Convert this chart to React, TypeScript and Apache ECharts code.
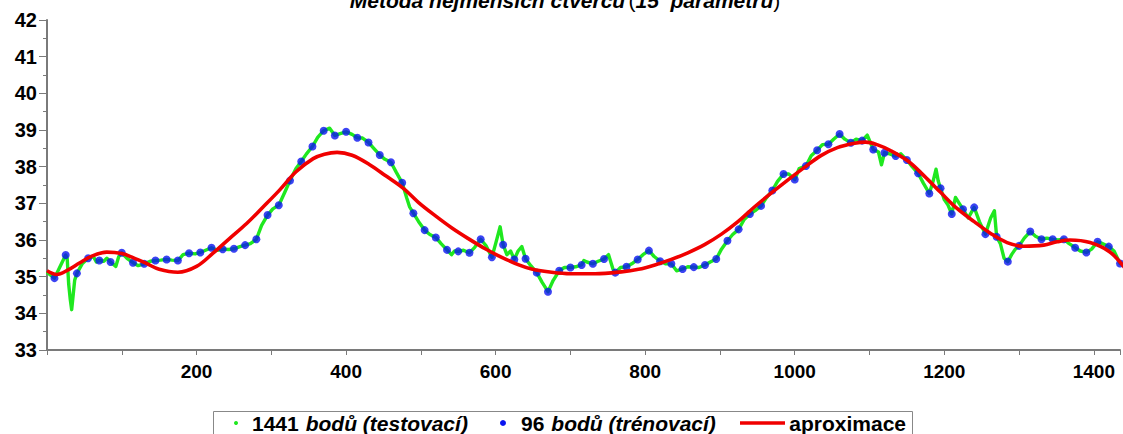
import React, { useEffect, useRef } from "react";
import * as echarts from "echarts";

const titleMain = "Metoda nejmenších čtverců";
const titleCount = "15  parametrů";
const yTicks = [33, 34, 35, 36, 37, 38, 39, 40, 41, 42];
const xLabelsShown = [200, 400, 600, 800, 1000, 1200, 1400];

// 96 training points (every 15th sample starting at 10)
const trainingStart = 10;
const trainingStep = 15;
const blueValues = [
  34.96, 35.59, 35.09, 35.5, 35.44, 35.4, 35.65, 35.38, 35.35, 35.44, 35.47, 35.44,
  35.64, 35.66, 35.79, 35.75, 35.76, 35.86, 36.02, 36.68, 36.95, 37.62, 38.14, 38.55,
  38.98, 38.85, 38.95, 38.79, 38.66, 38.32, 38.12, 37.56, 36.73, 36.27, 36.07, 35.73,
  35.69, 35.65, 36.02, 35.53, 35.87, 35.47, 35.49, 35.11, 34.59, 35.16, 35.25, 35.32,
  35.35, 35.48, 35.11, 35.27, 35.47, 35.71, 35.42, 35.35, 35.21, 35.26, 35.32, 35.48,
  35.98, 36.29, 36.71, 36.93, 37.35, 37.8, 37.65, 38.02, 38.45, 38.61, 38.89, 38.65,
  38.71, 38.47, 38.38, 38.29, 38.18, 37.82, 37.27, 37.41, 36.71, 36.84, 36.89, 36.16,
  36.09, 35.41, 35.84, 36.23, 36.02, 36.02, 36.02, 35.79, 35.66, 35.95, 35.82, 35.36,
];

// test data (1441 samples)
const greenPoints: [number, number][] = [
  [1, 35.1], [10, 34.96], [18, 35.3], [25, 35.59], [27, 35.5], [29, 34.8], [31, 34.4], [33, 34.1],
  [35, 34.5], [37, 34.9], [40, 35.09], [47, 35.35], [55, 35.5], [62, 35.55], [66, 35.4], [70, 35.44],
  [76, 35.42], [80, 35.5], [85, 35.4], [92, 35.28], [96, 35.55], [100, 35.65], [107, 35.5], [115, 35.38],
  [122, 35.3], [130, 35.35], [138, 35.42], [145, 35.44], [152, 35.45], [160, 35.47], [167, 35.45], [175, 35.44],
  [182, 35.6], [190, 35.64], [198, 35.62], [205, 35.66], [212, 35.72], [220, 35.79], [228, 35.72], [235, 35.75],
  [243, 35.74], [250, 35.76], [258, 35.82], [265, 35.86], [272, 35.9], [280, 36.02], [287, 36.4], [295, 36.68],
  [302, 36.85], [310, 36.95], [318, 37.3], [325, 37.62], [333, 37.95], [340, 38.14], [347, 38.35], [355, 38.55],
  [362, 38.8], [370, 38.98], [378, 39.05], [385, 38.85], [392, 38.9], [400, 38.95], [408, 38.88], [415, 38.79],
  [422, 38.78], [430, 38.66], [437, 38.5], [445, 38.32], [452, 38.2], [460, 38.12], [467, 37.85], [475, 37.56],
  [481, 37.15], [485, 36.9], [490, 36.73], [497, 36.5], [505, 36.27], [512, 36.15], [520, 36.07], [527, 35.9],
  [535, 35.73], [541, 35.6], [545, 35.7], [550, 35.69], [557, 35.72], [565, 35.65], [572, 35.8], [580, 36.02],
  [587, 35.85], [595, 35.53], [600, 35.9], [606, 36.36], [610, 35.87], [615, 35.6], [620, 35.7], [625, 35.47],
  [630, 35.7], [635, 35.82], [640, 35.49], [647, 35.3], [655, 35.11], [662, 34.85], [670, 34.59], [677, 34.9],
  [685, 35.16], [692, 35.25], [700, 35.25], [707, 35.27], [715, 35.32], [718, 35.44], [722, 35.4], [730, 35.35],
  [737, 35.42], [745, 35.48], [751, 35.6], [757, 35.2], [760, 35.11], [767, 35.25], [775, 35.27], [782, 35.35],
  [790, 35.47], [797, 35.6], [805, 35.71], [812, 35.55], [820, 35.42], [827, 35.35], [835, 35.35], [842, 35.16],
  [850, 35.21], [857, 35.27], [865, 35.26], [872, 35.25], [880, 35.32], [887, 35.4], [895, 35.48], [902, 35.75],
  [910, 35.98], [917, 36.15], [925, 36.29], [932, 36.55], [940, 36.71], [947, 36.8], [955, 36.93], [962, 37.15],
  [970, 37.35], [977, 37.6], [985, 37.8], [992, 37.8], [1000, 37.65], [1006, 37.95], [1015, 38.02], [1022, 38.3],
  [1030, 38.45], [1037, 38.6], [1045, 38.61], [1052, 38.75], [1060, 38.89], [1067, 38.75], [1075, 38.65], [1082, 38.75],
  [1090, 38.71], [1097, 38.86], [1105, 38.47], [1112, 38.4], [1116, 38.05], [1120, 38.38], [1127, 38.35], [1135, 38.29],
  [1142, 38.35], [1150, 38.18], [1157, 38.0], [1165, 37.82], [1172, 37.55], [1180, 37.27], [1185, 37.6], [1189, 37.93],
  [1192, 37.6], [1195, 37.41], [1200, 37.1], [1205, 36.95], [1210, 36.71], [1215, 37.16], [1220, 37.0], [1225, 36.84],
  [1232, 36.6], [1240, 36.89], [1247, 36.5], [1255, 36.16], [1262, 36.6], [1267, 36.8], [1270, 36.09], [1275, 35.9],
  [1280, 35.5], [1285, 35.41], [1290, 35.6], [1295, 35.75], [1300, 35.84], [1307, 36.05], [1315, 36.23], [1322, 36.1],
  [1330, 36.02], [1337, 36.05], [1345, 36.02], [1352, 36.0], [1360, 36.02], [1367, 35.9], [1375, 35.79], [1382, 35.7],
  [1390, 35.66], [1397, 35.75], [1405, 35.95], [1412, 35.9], [1420, 35.82], [1427, 35.7], [1435, 35.36], [1441, 35.3],
];

// least-squares approximation curve
const redPoints: [number, number][] = [
  [0, 35.16], [13, 35.06], [27, 35.17], [44, 35.38], [60, 35.56], [80, 35.67], [100, 35.63], [115, 35.52],
  [133, 35.36], [150, 35.2], [175, 35.12], [200, 35.28], [222, 35.64], [244, 36.04], [267, 36.45], [289, 36.9],
  [311, 37.36], [333, 37.86], [356, 38.22], [371, 38.34], [388, 38.39], [408, 38.31], [431, 38.06], [453, 37.75],
  [477, 37.4], [497, 37.02], [520, 36.65], [542, 36.32], [564, 36.03], [586, 35.76], [604, 35.57], [631, 35.32],
  [648, 35.21], [675, 35.12], [700, 35.08], [733, 35.08], [768, 35.13], [791, 35.2], [813, 35.32], [835, 35.47],
  [857, 35.65], [880, 35.88], [902, 36.16], [924, 36.5], [946, 36.9], [968, 37.27], [991, 37.64], [1013, 37.98],
  [1035, 38.3], [1057, 38.52], [1080, 38.64], [1095, 38.67], [1110, 38.6], [1128, 38.44], [1151, 38.16], [1173, 37.75],
  [1195, 37.3], [1217, 36.86], [1240, 36.5], [1262, 36.18], [1284, 35.93], [1306, 35.83], [1333, 35.86], [1351, 35.95],
  [1368, 36.0], [1395, 35.93], [1421, 35.68], [1441, 35.25],
];

const legendGreen = ["1441", "bodů (testovací)"];
const legendBlue = ["96", "bodů (trénovací)"];
const legendRed = "aproximace";

const FONT = "'Liberation Sans', Arial, Helvetica, sans-serif";
const GREEN = "#1fe81f";
const BLUE = "#0a14f0";
const RED = "#f00000";

export default function App() {
  const ref = useRef<HTMLDivElement>(null);
  useEffect(() => {
    if (!ref.current) return;
    const chart = echarts.init(ref.current, undefined, { renderer: "svg" });
    const blueData = blueValues.map((v, i) => [trainingStart + trainingStep * i, v]);
    const axisColor = "#7a7a7a";
    const legendRich = {
      n: { fontSize: 21, fontWeight: "bold", fontFamily: FONT, fill: "#000" },
      s: { fontSize: 21, fontFamily: FONT, fill: "#000", width: 7 },
      i: { fontSize: 21, fontWeight: "bold", fontStyle: "italic", fontFamily: FONT, fill: "#000" },
    };
    const legY = 423;
    chart.setOption({
      animation: false,
      backgroundColor: "#ffffff",
      grid: { left: 47, right: 0, top: 20, bottom: 84 },
      xAxis: {
        type: "value",
        min: 0,
        max: 1435,
        interval: 100,
        axisLine: { show: true, onZero: false, lineStyle: { color: axisColor, width: 2 } },
        axisTick: { show: true, length: 5, lineStyle: { color: axisColor, width: 1 } },
        splitLine: { show: false },
        axisLabel: {
          margin: 12,
          fontSize: 19,
          fontWeight: "bold",
          fontFamily: FONT,
          color: "#000",
          formatter: (v: number) => (xLabelsShown.includes(v) ? String(v) : ""),
        },
      },
      yAxis: {
        type: "value",
        min: yTicks[0],
        max: yTicks[yTicks.length - 1],
        interval: 1,
        axisLine: { show: true, onZero: false, lineStyle: { color: axisColor, width: 2 } },
        axisTick: { show: true, length: 8, lineStyle: { color: axisColor, width: 1 } },
        minorTick: { show: true, splitNumber: 2, length: 4, lineStyle: { color: axisColor, width: 1 } },
        splitLine: { show: false },
        axisLabel: {
          margin: 10,
          fontSize: 20,
          fontWeight: "bold",
          fontFamily: FONT,
          color: "#000",
        },
      },
      series: [
        {
          name: "test",
          type: "line",
          data: greenPoints,
          showSymbol: false,
          symbol: "none",
          lineStyle: { color: GREEN, width: 3.4, cap: "round", join: "round" },
          z: 1,
        },
        {
          name: "train",
          type: "scatter",
          data: blueData,
          symbol: "circle",
          symbolSize: 8,
          itemStyle: { color: BLUE },
          z: 2,
        },
        {
          name: "approx",
          type: "line",
          data: redPoints,
          smooth: 0.35,
          showSymbol: false,
          symbol: "none",
          lineStyle: { color: RED, width: 3.6 },
          z: 3,
        },
      ],
      graphic: [
        {
          type: "text",
          x: 565,
          y: 0,
          style: {
            text: `{bi|${titleMain}} {r|(}{bi|${titleCount}}{r|)}`,
            textAlign: "center",
            textVerticalAlign: "middle",
            fill: "#000",
            rich: {
              bi: { fontSize: 21, fontWeight: "bold", fontStyle: "italic", fontFamily: FONT, fill: "#000" },
              r: { fontSize: 21, fontWeight: "normal", fontFamily: FONT, fill: "#000" },
            },
          },
        },
        {
          type: "rect",
          shape: { x: 213.5, y: 411.5, width: 699, height: 40 },
          style: { fill: "#fff", stroke: "#888", lineWidth: 1 },
        },
        { type: "circle", shape: { cx: 236, cy: legY, r: 2 }, style: { fill: GREEN } },
        {
          type: "text",
          x: 252,
          y: legY,
          style: { text: `{n|${legendGreen[0]}}{s| }{i|${legendGreen[1]}}`, textVerticalAlign: "middle", rich: legendRich },
        },
        { type: "circle", shape: { cx: 503, cy: legY, r: 3 }, style: { fill: BLUE } },
        {
          type: "text",
          x: 521,
          y: legY,
          style: { text: `{n|${legendBlue[0]}}{s| }{i|${legendBlue[1]}}`, textVerticalAlign: "middle", rich: legendRich },
        },
        {
          type: "line",
          shape: { x1: 740, y1: legY, x2: 785, y2: legY },
          style: { stroke: RED, lineWidth: 3.6 },
        },
        {
          type: "text",
          x: 906,
          y: legY,
          style: { text: legendRed, textAlign: "right", textVerticalAlign: "middle", ...legendRich.n },
        },
      ],
    });
    return () => chart.dispose();
  }, []);
  return (
    <div
      ref={ref}
      style={{ position: "absolute", left: 0, top: 0, width: 1123, height: 434, background: "#fff" }}
    />
  );
}
